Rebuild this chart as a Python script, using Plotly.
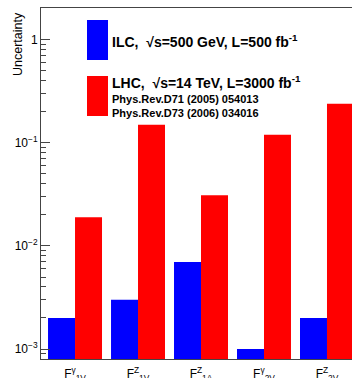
import plotly.graph_objects as go

categories = ["F<sup>γ</sup><sub>1V</sub>", "F<sup>Z</sup><sub>1V</sub>", "F<sup>Z</sup><sub>1A</sub>",
              "F<sup>γ</sup><sub>2V</sub>", "F<sup>Z</sup><sub>2V</sub>"]
ilc_values = [0.002, 0.003, 0.007, 0.001, 0.002]
lhc_values = [0.019, 0.15, 0.031, 0.12, 0.24]
ytick_vals = [0.001, 0.01, 0.1, 1]
ytick_text = ["10<sup>−3</sup>", "10<sup>−2</sup>", "10<sup>−1</sup>", "1"]

xpos = list(range(len(categories)))
minor_vals = [k * 10.0 ** e for e in range(-4, 1) for k in range(2, 10)]

fig = go.Figure()
fig.add_trace(go.Bar(x=xpos, y=ilc_values, marker=dict(color="#0000ff", line=dict(width=0)), name="ILC"))
fig.add_trace(go.Bar(x=xpos, y=lhc_values, marker=dict(color="#ff0000", line=dict(width=0)), name="LHC"))

W, H = 352, 378
L, T, B = 41, 8, 19

fig.update_layout(
    width=W, height=H,
    margin=dict(l=L, r=0, t=T, b=B, autoexpand=False),
    paper_bgcolor="white", plot_bgcolor="white",
    barmode="group", bargap=0.143, bargroupgap=0,
    showlegend=False,
    font=dict(family="Liberation Sans, Arial, sans-serif", color="black"),
    xaxis=dict(
        range=[-0.54, 4.397], tickmode="array", tickvals=xpos, ticktext=categories,
        showline=True, linecolor="#444", linewidth=1, mirror=True,
        ticks="", showgrid=False, zeroline=False, tickfont=dict(size=12),
        ticklabelstandoff=4,
    ),
    yaxis=dict(
        type="log", range=[-3.097, 0.31], tickmode="array", tickvals=ytick_vals, ticktext=ytick_text,
        showline=True, linecolor="#444", linewidth=1, mirror=False,
        ticks="inside", ticklen=9, tickcolor="#444", showgrid=False, zeroline=False,
        tickfont=dict(size=12),
        minor=dict(tickmode="array", tickvals=minor_vals, ticks="inside", ticklen=5, tickcolor="#444", showgrid=False),
    ),
)

def fx(p):
    return (p - L) / (W - L)

def fy(p):
    return (H - B - p) / (H - T - B)

# legend boxes
fig.add_shape(type="rect", xref="paper", yref="paper", x0=fx(87), x1=fx(108), y0=fy(60), y1=fy(20),
              fillcolor="#0000ff", line=dict(width=0), layer="above")
fig.add_shape(type="rect", xref="paper", yref="paper", x0=fx(87), x1=fx(108), y0=fy(116), y1=fy(76),
              fillcolor="#ff0000", line=dict(width=0), layer="above")

def ann(text, xp, yp, size, bold=True):
    fig.add_annotation(
        xref="paper", yref="paper",
        x=fx(xp), y=fy(yp),
        text=f"<b>{text}</b>" if bold else text,
        showarrow=False, xanchor="left", yanchor="middle",
        font=dict(size=size, family="Liberation Sans, Arial, sans-serif", color="black"),
    )

ann("ILC,  √s=500 GeV, L=500 fb<sup>-1</sup>", 110, 41, 14)
ann("LHC,  √s=14 TeV, L=3000 fb<sup>-1</sup>", 110, 82, 14)
ann("Phys.Rev.D71 (2005) 054013", 110, 99, 11)
ann("Phys.Rev.D73 (2006) 034016", 110, 113, 11)

# y title
fig.add_annotation(
    xref="paper", yref="paper", x=fx(18), y=fy(10),
    text="Uncertainty", textangle=-90, showarrow=False, xanchor="center", yanchor="top",
    font=dict(size=12.5, family="Liberation Sans, Arial, sans-serif", color="black"),
)

fig.write_html("out.html")
